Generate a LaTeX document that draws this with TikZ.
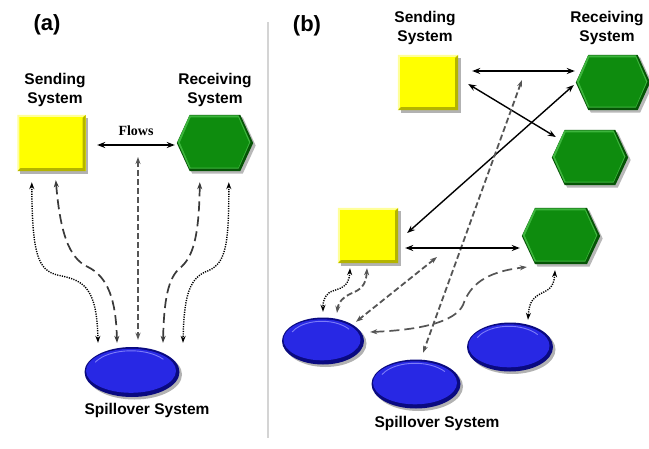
\documentclass[tikz,border=0pt]{standalone}
\usepackage{fontspec}
\setmainfont{Liberation Sans}
\newfontfamily\flowsfont{Liberation Serif}
\usetikzlibrary{arrows.meta,shapes.geometric,shadows}
\definecolor{ymain}{HTML}{FFFF00}
\definecolor{ydark}{HTML}{B4B400}
\definecolor{ylight}{HTML}{FFFF99}
\definecolor{gmain}{HTML}{0E8C0E}
\definecolor{gdark}{HTML}{065406}
\definecolor{glight}{HTML}{3DB53D}
\definecolor{bmain}{HTML}{2828E4}
\definecolor{bdark}{HTML}{0A0A80}
\definecolor{bhl}{HTML}{7C7CF8}
\definecolor{dgray}{HTML}{555555}
\definecolor{ldgray}{HTML}{3A3A3A}
\definecolor{divc}{HTML}{D4D4D4}
\newcommand\ybox[4]{%
 \node[fill=ymain, minimum width=#3pt, minimum height=#4pt, inner sep=0pt,
   drop shadow={shadow xshift=2.5pt,shadow yshift=-2.5pt,opacity=.3,fill=black}] (#1) at (#2) {};
 \fill[ydark] (#1.south west) -- (#1.south east) -- (#1.north east) -- ([shift={(-3pt,-3pt)}]#1.north east) -- ([shift={(-3pt,3pt)}]#1.south east) -- ([shift={(3pt,3pt)}]#1.south west) -- cycle;
 \fill[ylight] (#1.north west) -- (#1.north east) -- ([shift={(-3pt,-2pt)}]#1.north east) -- ([shift={(2pt,-2pt)}]#1.north west) -- ([shift={(2pt,3pt)}]#1.south west) -- (#1.south west) -- cycle;
}
\newcommand\hexfill[5]{%
 \fill[#1] ([shift={(#4pt+1.2*#3pt,#5pt)}]#2.west) -- ([shift={(#4pt+\hk*1pt+0.5*#3pt,#5pt-#3pt)}]#2.north west) -- ([shift={(#4pt-\hk*1pt-0.5*#3pt,#5pt-#3pt)}]#2.north east) -- ([shift={(#4pt-1.2*#3pt,#5pt)}]#2.east) -- ([shift={(#4pt-\hk*1pt-0.5*#3pt,#5pt+#3pt)}]#2.south east) -- ([shift={(#4pt+\hk*1pt+0.5*#3pt,#5pt+#3pt)}]#2.south west) -- cycle;}
\newcommand\hexn[4]{%
 \node[inner sep=0pt, minimum width=#3pt, minimum height=#4pt] (#1) at (#2) {};
 \pgfmathsetmacro\hk{#3*0.17}%
 \hexfill{black,opacity=.28}{#1}{0}{2.5}{-2.5}%
 \hexfill{gdark}{#1}{0}{0}{0}%
 \hexfill{glight}{#1}{1.5}{-1}{1}%
 \hexfill{gmain}{#1}{3}{-0.5}{0.5}%
}
\newcommand\spill[4]{%
 \node[ellipse, fill=bdark, minimum width=#3pt, minimum height=#4pt, inner sep=0pt,
   drop shadow={shadow xshift=2.5pt,shadow yshift=-2.5pt,opacity=.3,fill=black}] (#1) at (#2) {};
 \node[ellipse, fill=bmain, minimum width=#3pt-5pt, minimum height=#4pt-6pt, inner sep=0pt] (#1-in) at ([shift={(-1pt,1.2pt)}]#1.center) {};
 \draw[bhl, line width=0.9pt] ([shift={(155:#3pt*0.5-8pt and #4pt*0.5-5pt)}]#1-in.center) arc[start angle=155, end angle=35, x radius=#3pt*0.5-8pt, y radius=#4pt*0.5-5pt];
}
\begin{document}
\begin{tikzpicture}[x=1pt,y=-1pt,
  lbl/.style={font=\fontsize{15.5}{19}\selectfont\bfseries, align=center, inner sep=0pt},
  tag/.style={font=\fontsize{22}{26}\selectfont\bfseries, inner sep=0pt},
  tips/.style={{Stealth[length=7pt,width=5pt]}-{Stealth[length=7pt,width=5pt]}},
  solidarr/.style={{Stealth[length=8pt,width=6pt]}-{Stealth[length=8pt,width=6pt]}, line width=1.4pt, black},
  grayarr/.style={tips, dash pattern=on 6pt off 3pt, line width=2pt, dgray},
  longdash/.style={tips, line width=1.7pt, dash pattern=on 10pt off 5pt, ldgray},
  dots/.style={tips, line width=1.4pt, dash pattern=on 1.2pt off 1.2pt, black}]
\useasboundingbox (0,0) rectangle (649,448);
\fill[white] (0,0) rectangle (649,448);
\coordinate (dv1) at (268,22);
\coordinate (dv2) at (268,438);
\draw[divc, line width=1.5pt] (dv1) -- (dv2);

% ---------- panel (a)
\node[tag] (taga) at (47,25) {(a)};
\node[lbl] (lsa) at (55,89.5) {Sending\\System};
\node[lbl] (lra) at (215,89.5) {Receiving\\System};
\ybox{sa}{51.5,143}{68}{56}
\hexn{ra}{215,143}{76}{56}
\spill{sp}{132,372}{95}{50}
\node[lbl] (lsp) at (147,410) {Spillover System};
\node[font=\flowsfont\fontsize{14}{16}\selectfont\bfseries, inner sep=0pt] (flows) at (136,131) {Flows};
\draw[solidarr] ([xshift=11.5pt,yshift=-2pt]sa.east) -- ([xshift=-2pt,yshift=-2pt]ra.west);
\coordinate (ctop) at (138,157);
\draw[grayarr] (ctop) -- ([xshift=6pt,yshift=7pt]sp.north);
\draw[dots] ([xshift=14.5pt,yshift=-11pt]sa.south west) .. controls (32,262) and (40,272) .. (62,276) .. controls (85,281) and (97,290) .. ([xshift=-34pt,yshift=4pt]sp.north);
\draw[longdash] ([xshift=38.5pt,yshift=-9pt]sa.south west) .. controls (60,230) and (68,258) .. (88,267) .. controls (108,277) and (116,300) .. ([xshift=-15pt,yshift=4pt]sp.north);
\draw[longdash] ([xshift=23pt,yshift=-11pt]ra.south west) .. controls (199,240) and (192,258) .. (180,268) .. controls (168,278) and (164,300) .. ([xshift=31pt,yshift=4pt]sp.north);
\draw[dots] ([xshift=52pt,yshift=-11pt]ra.south west) .. controls (229,250) and (225,265) .. (205,272) .. controls (188,280) and (184,300) .. ([xshift=51pt,yshift=4pt]sp.north);

% ---------- panel (b)
\node[tag] (tagb) at (307,26) {(b)};
\node[lbl] (lsb) at (425,27.5) {Sending\\System};
\node[lbl] (lrb) at (607,27.5) {Receiving\\System};
\ybox{sb1}{428,82.5}{60}{55}
\hexn{rb1}{613,82.5}{74}{55}
\hexn{rb2}{590,157.5}{76}{55}
\ybox{sb2}{368,235.5}{60}{55}
\hexn{rb3}{561,236}{78}{56}
\spill{eb1}{323,341}{82}{47}
\spill{eb2}{416,384}{89}{49}
\spill{eb3}{510,347}{86}{49}
\node[lbl] (lspb) at (437,423) {Spillover System};

\draw[solidarr] ([xshift=14pt,yshift=11.5pt]sb1.east) -- ([xshift=-1pt,yshift=11.5pt]rb1.west);
\draw[solidarr] ([xshift=10pt,yshift=-1.5pt]sb1.east) -- ([xshift=4pt,yshift=20.5pt]rb2.west);
\draw[solidarr] ([xshift=9pt,yshift=2.5pt]sb2.east) -- ([xshift=-2pt,yshift=-2.5pt]rb1.west);
\coordinate (dtop) at (522,80);
\draw[grayarr, line width=1.8pt] (dtop) -- ([xshift=7pt,yshift=6.5pt]eb2.north);
\draw[solidarr] ([xshift=7pt,yshift=-12.5pt]sb2.east) -- ([xshift=-2pt,yshift=-12pt]rb3.west);
\draw[dots] ([xshift=-18pt,yshift=-5pt]sb2.south) .. controls (349,288) and (340,288) .. (330,292) .. controls (324,296) and (323,302) .. ([yshift=5.5pt]eb1.north);
\draw[grayarr, line width=1.8pt] ([xshift=-1pt,yshift=-5pt]sb2.south) .. controls (366,286) and (360,290) .. (350,294) .. controls (340,299) and (338,305) .. ([xshift=14pt,yshift=4.5pt]eb1.north);
\coordinate (dmid) at (437,257);
\draw[grayarr, line width=1.8pt] (dmid) -- ([xshift=33pt,yshift=-4.5pt]eb1.north);
\draw[longdash, dgray] ([xshift=6pt,yshift=9pt]eb1.east) .. controls (420,330) and (455,322) .. (463,305) .. controls (470,285) and (485,272) .. ([xshift=5pt,yshift=-31pt]rb3.west);
\draw[dots] ([xshift=-6pt,yshift=-6pt]rb3.south) .. controls (554,288) and (548,290) .. (540,294) .. controls (531,299) and (529,305) .. ([xshift=18pt,yshift=2.5pt]eb3.north);
\end{tikzpicture}
\end{document}
